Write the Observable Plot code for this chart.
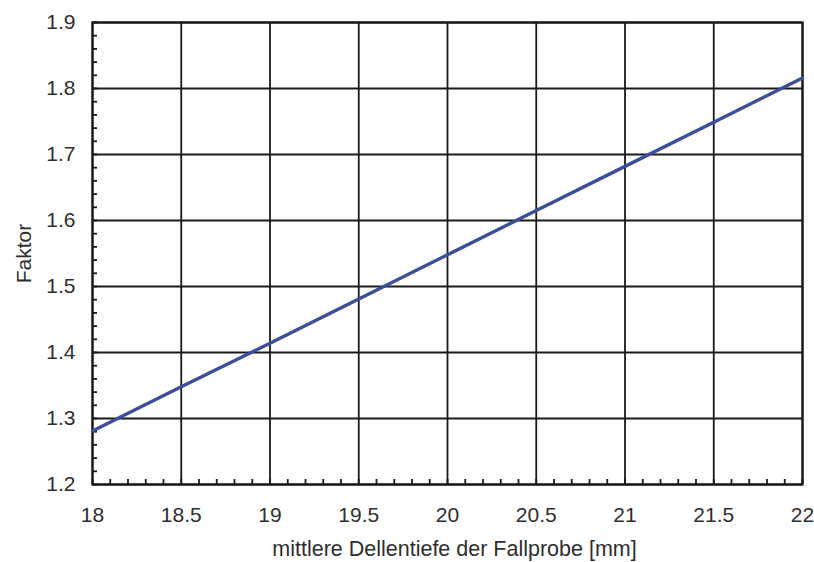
<!DOCTYPE html>
<html>
<head>
<meta charset="utf-8">
<script src="https://cdn.jsdelivr.net/npm/d3@7"></script>
<script src="https://cdn.jsdelivr.net/npm/@observablehq/plot@0.6"></script>
<style>
  html, body { margin: 0; padding: 0; background: #fff; }
  #chart { width: 814px; height: 562px; }
</style>
</head>
<body>
<div id="chart"></div>
<script>
const depth = [18, 18.5, 19, 19.5, 20, 20.5, 21, 21.5, 22];
const factor = [1.281, 1.348, 1.414, 1.481, 1.548, 1.615, 1.682, 1.749, 1.816];
const xTicks = [18, 18.5, 19, 19.5, 20, 20.5, 21, 21.5, 22];
const yTicks = [1.2, 1.3, 1.4, 1.5, 1.6, 1.7, 1.8, 1.9];
const xMinor = d3.range(180, 221).map(v => v / 10);
const yMinor = d3.range(60, 96).map(v => v / 50);
const xLabel = "mittlere Dellentiefe der Fallprobe [mm]";
const yLabel = "Faktor";

const data = depth.map((d, i) => ({depth: d, factor: factor[i]}));
const ink = "#1a1a1a";
const txt = "#2e2e2e";

const chart = Plot.plot({
  width: 814,
  height: 562,
  marginLeft: 92,
  marginRight: 12,
  marginTop: 22,
  marginBottom: 78,
  style: {fontFamily: "Liberation Sans, Arial, sans-serif", fontSize: "21px", color: txt, background: "#fff"},
  x: {domain: [18, 22]},
  y: {domain: [1.2, 1.9]},
  marks: [
    Plot.ruleX(xTicks, {stroke: ink, strokeWidth: 1.8}),
    Plot.ruleY(yTicks, {stroke: ink, strokeWidth: 1.8}),
    Plot.axisX({ticks: xMinor, tickSize: -5, tickFormat: () => "", stroke: ink, strokeWidth: 1.8, label: null}),
    Plot.axisY({ticks: yMinor, tickSize: -5, tickFormat: () => "", stroke: ink, strokeWidth: 1.8, label: null}),
    Plot.axisX({ticks: xTicks, tickSize: 0, tickPadding: 23, tickFormat: d => String(d), fill: txt, fontSize: 21, label: null}),
    Plot.axisY({ticks: yTicks, tickSize: 0, tickPadding: 17, tickFormat: d => d.toFixed(1), fill: txt, fontSize: 21, label: null}),
    Plot.frame({stroke: ink, strokeWidth: 2.2}),
    Plot.line(data, {x: "depth", y: "factor", stroke: "#3a4e9c", strokeWidth: 3.4}),
    Plot.text([xLabel], {text: d => d, frameAnchor: "bottom", lineAnchor: "middle", textAnchor: "middle", dy: 65, dx: 7, fontSize: 21.5, fill: txt}),
    Plot.text([yLabel], {text: d => d, frameAnchor: "left", lineAnchor: "middle", textAnchor: "middle", dx: -68, rotate: -90, fontSize: 21, fill: txt})
  ]
});
document.getElementById("chart").append(chart);
</script>
</body>
</html>
